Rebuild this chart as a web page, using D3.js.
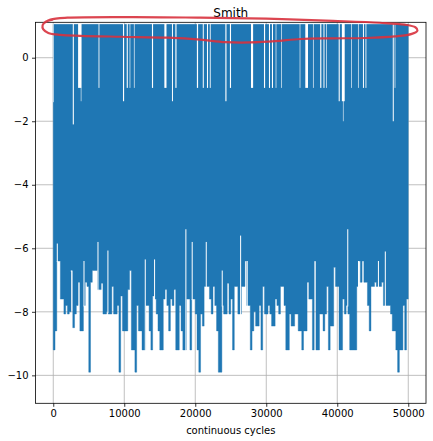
<!DOCTYPE html>
<html>
<head>
<meta charset="utf-8">
<script src="https://cdn.jsdelivr.net/npm/d3@7"></script>
<style>
  body { margin: 0; background: #fff; }
  text { font-family: "DejaVu Sans", sans-serif; }
</style>
</head>
<body>
<svg id="chart" width="433" height="441"></svg>
<script>

const margin = {top: 22.3, right: 7, bottom: 37.7, left: 35.5};
const width = 433 - margin.left - margin.right;
const height = 441 - margin.top - margin.bottom;

// lowest value reached in each 250-cycle bin
const binSize = 250;
const lows = [
  -9.2, -8.6, -6.4, -6.4, -7.6, -7.6, -8.07, -7.8, -8.07, -8.0,
  -6.7, -8.5, -8.07, -7.8, -7.07, -8.6, -8.6, -7.8, -7.07, -7.2,
  -9.9, -7.07, -6.7, -6.7, -6.7, -7.3, -7.3, -7.1, -8.07, -8.07,
  -8.0, -8.07, -8.07, -7.2, -8.07, -8.07, -7.8, -9.9, -7.5, -8.6,
  -8.6, -8.6, -7.3, -6.7, -9.2, -9.2, -9.9, -7.8, -8.6, -8.6,
  -9.2, -9.2, -7.8, -7.8, -8.6, -9.2, -7.5, -7.6, -8.07, -8.6,
  -9.2, -9.2, -7.6, -7.3, -7.8, -8.6, -7.6, -7.8, -7.3, -9.2,
  -9.2, -7.8, -8.6, -9.2, -9.2, -7.6, -7.6, -9.2, -7.6, -7.6,
  -8.07, -9.2, -9.9, -8.07, -8.45, -7.2, -7.2, -7.2, -7.6, -8.07,
  -7.2, -7.8, -8.6, -9.9, -9.9, -7.8, -8.07, -8.07, -7.1, -8.07,
  -7.6, -9.2, -7.2, -7.2, -8.07, -8.07, -7.2, -7.2, -6.4, -7.8,
  -7.8, -9.2, -8.6, -8.0, -8.45, -8.45, -7.8, -9.2, -7.2, -8.07,
  -8.07, -7.8, -8.07, -8.45, -8.45, -7.6, -7.8, -8.07, -7.2, -7.2,
  -7.8, -9.2, -9.2, -8.07, -8.45, -8.45, -8.07, -8.07, -8.6, -8.6,
  -9.2, -8.6, -8.6, -7.07, -7.6, -7.6, -9.2, -6.4, -9.2, -9.2,
  -8.07, -8.07, -8.6, -8.07, -7.2, -9.2, -8.45, -8.45, -6.6, -7.2,
  -7.2, -9.2, -9.2, -7.6, -8.07, -7.8, -8.07, -9.2, -9.2, -9.2,
  -9.2, -7.2, -6.4, -7.07, -6.4, -7.07, -7.07, -7.8, -8.6, -7.2,
  -7.2, -7.07, -7.2, -7.2, -7.2, -7.07, -7.8, -7.8, -7.8, -7.8,
  -8.07, -8.6, -8.6, -9.2, -9.9, -9.2, -9.2, -7.8, -9.2, -7.6
];
const topLevel = 1.05;

// places where the line does not reach the top: [from cycle, to cycle, highest value]
const topGaps = [
  [0, 80, -1.4], [2750, 2900, -2.1], [3500, 3950, -0.95], [3880, 3960, -1.37],
  [6380, 6500, -0.95], [9820, 9980, -1.37], [10350, 10500, -0.95], [10760, 10850, -0.95],
  [11360, 11450, -0.95], [13900, 14060, -0.95], [15650, 15950, -0.95], [16720, 16860, -1.37],
  [17200, 17360, -0.95], [20230, 20400, -0.95], [21060, 21200, -0.95], [21650, 21800, -0.95],
  [22050, 22170, -0.95], [24240, 24400, -1.37], [24880, 25040, -0.95], [27850, 28150, -0.95],
  [29680, 29840, -0.95], [30380, 30530, -0.95], [30800, 30950, -0.95], [31330, 31420, -0.95],
  [32130, 32220, -0.95], [34710, 34800, -0.95], [35500, 35880, -0.95], [36580, 36670, -0.95],
  [37600, 37760, -0.95], [38060, 38200, -0.95], [38460, 38550, -0.95], [40200, 40350, -1.37],
  [40650, 41050, -1.37], [40800, 40880, -2.0], [41980, 42070, -0.95], [42920, 43010, -0.95],
  [43620, 43760, -0.95], [43980, 44100, -0.95], [47820, 47960, -2.0], [48090, 48180, -0.95]
];

// thin places where the line stays high: [cycle, lowest value]
const bottomGaps = [
  [570, -5.85], [2540, -6.7], [4330, -6.4], [6300, -5.8], [7700, -6.07],
  [12960, -6.35], [14270, -6.35], [18680, -5.4], [19570, -5.8], [21550, -5.8],
  [23800, -6.7], [26390, -5.6], [27320, -6.4], [41480, -5.4], [42990, -6.4],
  [45800, -6.4], [46770, -6.1]
];

const xTicks = [0, 10000, 20000, 30000, 40000, 50000];
const yTicks = [0, -2, -4, -6, -8, -10];

// hand drawn red ring round the top band, in data units [cycle, value]
const ring = [
  [-1250, 1.1], [-400, 1.2], [2000, 1.26], [11300, 1.28], [20700, 1.26], [30000, 1.23],
  [39400, 1.16], [46000, 1.1], [49500, 1.04], [51000, 0.96], [51300, 0.86], [50500, 0.75],
  [48100, 0.67], [44000, 0.62], [39400, 0.61], [34800, 0.59], [31300, 0.52], [27800, 0.48],
  [24200, 0.49], [20700, 0.57], [16100, 0.63], [9500, 0.66], [3800, 0.69], [1000, 0.72],
  [-700, 0.78], [-1400, 0.89], [-1500, 1.02], [-1100, 1.13], [-100, 1.2]
];

const svg = d3.select("#chart");
const g = svg.append("g").attr("transform", `translate(${margin.left},${margin.top})`);

const xScale = d3.scaleLinear().domain([-2500, 52500]).range([0, width]);
const yScale = d3.scaleLinear().domain([-10.88, 1.115]).range([height, 0]);

// grid
g.append("g").selectAll("line").data(xTicks).enter().append("line")
    .attr("x1", d => xScale(d)).attr("x2", d => xScale(d))
    .attr("y1", 0).attr("y2", height)
    .attr("stroke", "#b0b0b0").attr("stroke-width", 0.8);
g.append("g").selectAll("line").data(yTicks).enter().append("line")
    .attr("y1", d => yScale(d)).attr("y2", d => yScale(d))
    .attr("x1", 0).attr("x2", width)
    .attr("stroke", "#b0b0b0").attr("stroke-width", 0.8);

// the dense series, as the band it fills
const bins = lows.map((v, i) => ({cycle: i * binSize, low: v}));
bins.push({cycle: lows.length * binSize, low: lows[lows.length - 1]});
const area = d3.area()
    .curve(d3.curveStepAfter)
    .x(d => xScale(d.cycle))
    .y0(d => yScale(d.low))
    .y1(yScale(topLevel));

g.append("path")
    .datum(bins)
    .attr("d", area)
    .attr("fill", "#1f77b4")
    .attr("stroke", "#1f77b4")
    .attr("stroke-width", 0.4);

g.append("g").selectAll("rect").data(topGaps).enter().append("rect")
    .attr("x", d => xScale(d[0]))
    .attr("width", d => xScale(d[1]) - xScale(d[0]))
    .attr("y", yScale(topLevel) - 1)
    .attr("height", d => yScale(d[2]) - yScale(topLevel) + 1)
    .attr("fill", "#fff");

const binLow = c => lows[Math.min(lows.length - 1, Math.floor(c / binSize))];
g.append("g").selectAll("rect").data(bottomGaps).enter().append("rect")
    .attr("x", d => xScale(d[0]) - 0.5)
    .attr("width", 1)
    .attr("y", d => yScale(d[1]))
    .attr("height", d => Math.max(0, yScale(binLow(d[0])) - yScale(d[1]) + 1))
    .attr("fill", "#fff");

// spines and ticks
g.append("rect")
    .attr("width", width).attr("height", height)
    .attr("fill", "none").attr("stroke", "#000").attr("stroke-width", 0.8);

const xAxis = g.append("g")
    .attr("transform", `translate(0,${height})`)
    .call(d3.axisBottom(xScale).tickValues(xTicks).tickFormat(d3.format("d")).tickSize(3.5).tickPadding(3.5));
const yAxis = g.append("g")
    .call(d3.axisLeft(yScale).tickValues(yTicks).tickFormat(d3.format("d")).tickSize(3.5).tickPadding(3.5));

[xAxis, yAxis].forEach(ax => {
    ax.select(".domain").remove();
    ax.selectAll(".tick line").attr("stroke", "#000").attr("stroke-width", 0.8);
    ax.selectAll(".tick text").attr("fill", "#000").style("font-size", "10px")
        .style("font-family", "DejaVu Sans, sans-serif");
});

// title and label
svg.append("text")
    .attr("x", margin.left + width / 2).attr("y", 16.6)
    .attr("text-anchor", "middle").style("font-size", "12px").attr("fill", "#000")
    .text("Smith");
svg.append("text")
    .attr("x", margin.left + width / 2).attr("y", 433.5)
    .attr("text-anchor", "middle").style("font-size", "10px").attr("fill", "#000")
    .text("continuous cycles");

// the red ring
svg.append("path")
    .datum(ring)
    .attr("transform", `translate(${margin.left},${margin.top})`)
    .attr("d", d3.line().curve(d3.curveCatmullRom).x(d => xScale(d[0])).y(d => yScale(d[1])))
    .attr("fill", "none")
    .attr("stroke", "#d8313d")
    .attr("stroke-width", 2.2)
    .attr("stroke-opacity", 0.9)
    .attr("stroke-linecap", "round");

</script>
</body>
</html>
